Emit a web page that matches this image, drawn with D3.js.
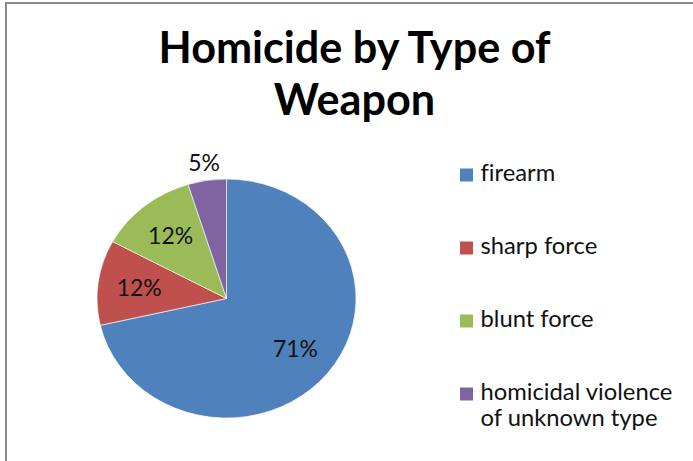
<!DOCTYPE html>
<html>
<head>
<meta charset="utf-8">
<script src="https://cdn.jsdelivr.net/npm/d3@7"></script>
<style>
  html, body { margin: 0; padding: 0; background: #fff; }
  svg { display: block; font-family: Lato, "Open Sans", sans-serif; font-variant-ligatures: none; }
</style>
</head>
<body>
<svg id="chart" width="693" height="461"></svg>
<script>
// chart data
var titleLines = ['Homicide by Type of', 'Weapon'];
var categories = ['firearm', 'sharp force', 'blunt force', 'homicidal violence of unknown type'];
var legendLines = [['firearm'], ['sharp force'], ['blunt force'], ['homicidal violence', 'of unknown type']];
var values = [71.4, 11.5, 12.3, 4.8];
var colors = ['#4F81BD', '#C0504D', '#9BBB59', '#8064A2'];

var svg = d3.select('#chart');
var W = 693, H = 461;

// pick a font size so a sample string comes out at a target width
function fitSize(text, targetWidth, weight) {
  var t = svg.append('text')
    .attr('font-size', 100)
    .attr('font-weight', weight || 'normal')
    .text(text);
  var w = t.node().getComputedTextLength();
  t.remove();
  return 100 * targetWidth / w;
}

// frame (only top and left edges visible in the crop)
svg.append('rect')
  .attr('x', 6).attr('y', 3)
  .attr('width', W + 20).attr('height', H + 20)
  .attr('fill', 'none')
  .attr('stroke', '#8a8a8a')
  .attr('stroke-width', 2);

// title
var titleSize = fitSize(titleLines[0], 392, 'bold');
svg.append('g')
  .selectAll('text')
  .data(titleLines)
  .enter()
  .append('text')
  .attr('x', 354.5)
  .attr('y', function(d, i) { return 63 + i * 52; })
  .attr('text-anchor', 'middle')
  .attr('font-weight', 'bold')
  .attr('font-size', titleSize)
  .attr('fill', '#000')
  .text(function(d) { return d; });

// pie (the source picture is stretched sideways a little)
var cx = 226.5, cy = 298.5, r = 119.5, sx = 129.5 / 119.5;
var pie = d3.pie().sort(null).value(function(d) { return d; });
var arcs = pie(values);
var arc = d3.arc().innerRadius(0).outerRadius(r);
var total = d3.sum(values);

var g = svg.append('g').attr('transform', 'translate(' + cx + ',' + cy + ')');

g.append('g')
  .attr('transform', 'scale(' + sx + ',1)')
  .selectAll('.slice')
  .data(arcs)
  .enter()
  .append('path')
  .classed('slice', true)
  .attr('d', arc)
  .attr('fill', function(d, i) { return colors[i]; })
  .attr('stroke', '#fff')
  .attr('stroke-width', 0.6);

var labelSize = fitSize('71%', 45);
var inside = d3.arc().innerRadius(r * 0.68).outerRadius(r * 0.68);
var outside = d3.arc().innerRadius(r * 1.15).outerRadius(r * 1.15);

g.selectAll('.lbl')
  .data(arcs)
  .enter()
  .append('text')
  .classed('lbl', true)
  .attr('transform', function(d) {
    var share = d.value / total;
    var c = share < 0.08 ? outside.centroid(d) : inside.centroid(d);
    return 'translate(' + (c[0] * sx) + ',' + c[1] + ')';
  })
  .attr('text-anchor', 'middle')
  .attr('dy', '0.35em')
  .attr('font-size', labelSize)
  .attr('fill', '#111')
  .text(function(d) { return Math.round(d.value / total * 100) + '%'; });

// legend
var legendSize = fitSize('homicidal violence', 192);
var lineH = 26, gap = 47, y0 = 180.5;
var legendY = [];
var yy = y0;
legendLines.forEach(function(lines) {
  legendY.push(yy);
  yy += lines.length * lineH + gap;
});

var items = svg.append('g')
  .selectAll('.item')
  .data(categories)
  .enter()
  .append('g')
  .classed('item', true)
  .attr('transform', function(d, i) { return 'translate(460,' + legendY[i] + ')'; });

items.append('rect')
  .attr('x', 0)
  .attr('y', -12)
  .attr('width', 13)
  .attr('height', 13)
  .attr('fill', function(d, i) { return colors[i]; });

items.selectAll('.line')
  .data(function(d, i) { return legendLines[i]; })
  .enter()
  .append('text')
  .classed('line', true)
  .attr('x', 20.5)
  .attr('y', function(d, j) { return j * lineH; })
  .attr('font-size', legendSize)
  .attr('fill', '#111')
  .text(function(d) { return d; });
</script>
</body>
</html>
